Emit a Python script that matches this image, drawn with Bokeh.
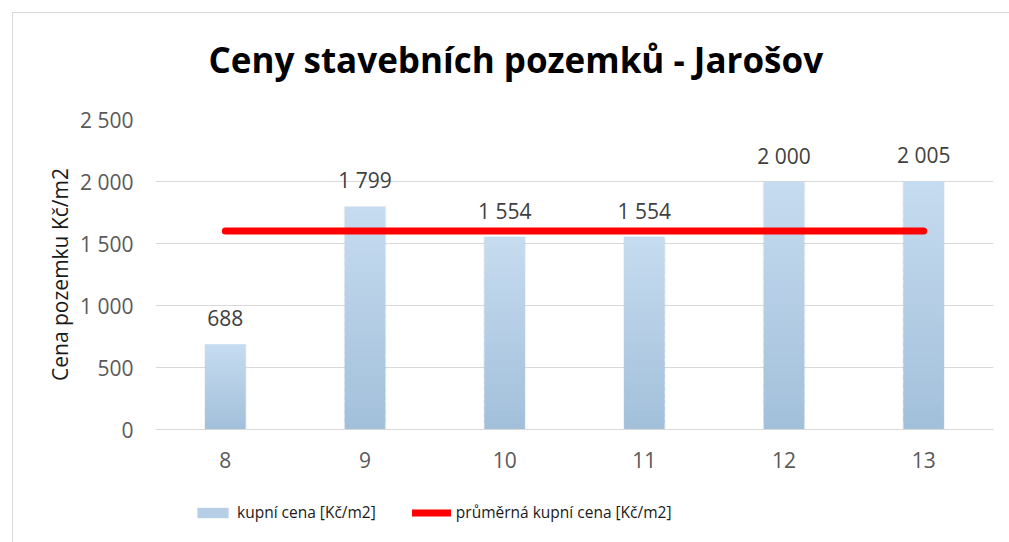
from bokeh.plotting import figure
from bokeh.layouts import column
from bokeh.models import (FactorRange, Range1d, Legend, LegendItem, Title,
                          ColumnDataSource, FixedTicker)
from bokeh.embed import file_html
from bokeh.resources import INLINE
from bokeh.core.properties import value

# ---- data ----
categories = ["8", "9", "10", "11", "12", "13"]
prices = [688, 1799, 1554, 1554, 2000, 2005]
average_price = [1600, 1600, 1600, 1600, 1600, 1600]
y_ticks = [0, 500, 1000, 1500, 2000, 2500]
y_tick_labels = ["0", "500", "1 000", "1 500", "2 000", "2 500"]
title_text = "Ceny stavebních pozemků - Jarošov"
y_label = "Cena pozemku Kč/m2"
series_names = ["kupní cena [Kč/m2]", "průměrná kupní cena [Kč/m2]"]

FONT = "Open Sans"
BAR_TOP = (198, 220, 240)
BAR_BOTTOM = (163, 192, 219)

p = figure(x_range=FactorRange(*categories, range_padding=0),
           y_range=Range1d(0, 2500),
           width=996, height=470,
           output_backend="svg", toolbar_location=None,
           min_border_left=142, min_border_right=16,
           min_border_top=106, min_border_bottom=54)
p.outline_line_color = None
p.background_fill_color = "white"
p.border_fill_color = "white"

# title (outermost) + spacer between title and frame
p.title.text = title_text
p.title.align = "left"
p.title.offset = 53
p.title.vertical_align = "bottom"
p.title.standoff = 0
p.title.text_font = FONT
p.title.text_font_size = "35px"
p.title.text_font_style = "bold"
p.title.text_color = "#000000"
p.add_layout(Title(text=" ", text_font_size="1px", standoff=34), "above")

# grid / axes
p.xgrid.grid_line_color = None
p.ygrid.grid_line_color = "#d9d9d9"
p.ygrid.grid_line_width = 1
p.yaxis.ticker = FixedTicker(ticks=y_ticks)
p.yaxis.major_label_overrides = dict(zip(y_ticks, y_tick_labels))
p.yaxis.axis_line_color = None
p.yaxis.major_tick_line_color = None
p.yaxis.major_tick_out = 0
p.yaxis.major_tick_in = 0
p.yaxis.minor_tick_line_color = None
p.yaxis.major_label_standoff = 22
p.yaxis.major_label_text_font = FONT
p.yaxis.major_label_text_font_size = "21px"
p.yaxis.major_label_text_color = "#595959"
p.yaxis.axis_label = y_label
p.yaxis.axis_label_text_font = FONT
p.yaxis.axis_label_text_font_size = "21px"
p.yaxis.axis_label_text_font_style = "normal"
p.yaxis.axis_label_text_color = "#1a1a1a"
p.yaxis.axis_label_standoff = 3

p.xaxis.axis_line_color = "#d9d9d9"
p.xaxis.major_tick_line_color = None
p.xaxis.major_tick_out = 0
p.xaxis.major_tick_in = 0
p.xaxis.minor_tick_line_color = None
p.xaxis.major_label_standoff = 22
p.xaxis.major_label_text_font = FONT
p.xaxis.major_label_text_font_size = "21px"
p.xaxis.major_label_text_color = "#595959"

# ---- bars: gradient (light top, darker bottom) via slices of each bar ----
N = 30
xs, bottoms, tops, colors = [], [], [], []
for cat, v in zip(categories, prices):
    for k in range(N):
        t = (k + 0.5) / N
        rgb = [int(b + (a - b) * t) for a, b in zip(BAR_TOP, BAR_BOTTOM)]
        xs.append(cat)
        bottoms.append(v * k / N)
        tops.append(min(v, v * (k + 1.6) / N))
        colors.append("#%02x%02x%02x" % tuple(rgb))

# soft shadow behind bars
p.vbar(x=categories, top=prices, width=0.305, fill_color="#7f7f7f",
       fill_alpha=0.10, line_color=None)
bar_src = ColumnDataSource(dict(x=xs, bottom=bottoms, top=tops, color=colors))
p.vbar(x="x", bottom="bottom", top="top", width=0.29, source=bar_src,
       fill_color="color", line_color=None)

# data labels
label_text = [f"{v:,}".replace(",", " ") for v in prices]
p.text(x=categories, y=prices, text=label_text, y_offset=-26,
       text_align="center", text_baseline="alphabetic",
       text_font=value(FONT), text_font_size="21px", text_color="#404040")

# average line
p.line(x=categories, y=average_price, line_color="#ff0000",
       line_width=7, line_cap="round")

# ---- legend strip (separate small figure below the chart) ----
lg = figure(width=996, height=59, x_range=Range1d(0, 1), y_range=Range1d(0, 1),
            x_axis_type=None, y_axis_type=None,
            output_backend="svg", toolbar_location=None, min_border=0)
lg.outline_line_color = None
lg.grid.visible = False
# legend proxies, placed outside the visible ranges of the strip
lg_bar = lg.vbar(x=[-5], top=[-5], bottom=[-6], width=0.1,
                 fill_color="#b6cfe7", line_color=None)
lg_line = lg.line(x=[-6, -5], y=[-5, -5], line_color="#ff0000",
                  line_width=7, line_cap="round")
legend = Legend(items=[LegendItem(label=series_names[0], renderers=[lg_bar]),
                       LegendItem(label=series_names[1], renderers=[lg_line])],
                orientation="horizontal", location=(38, 19),
                glyph_width=39, glyph_height=13, label_height=13,
                label_standoff=5, spacing=36, padding=0, margin=0,
                border_line_color=None, background_fill_alpha=0,
                label_text_font=FONT, label_text_font_size="15.5px",
                label_text_color="#1a1a1a", label_text_baseline="middle")
lg.add_layout(legend, "center")

layout = column(p, lg, spacing=0,
                styles={"border-left": "1px solid #d9d9d9",
                        "border-top": "1px solid #d9d9d9",
                        "margin-left": "12px", "margin-top": "12px"})

open("out.html", "w").write(file_html(layout, INLINE))
